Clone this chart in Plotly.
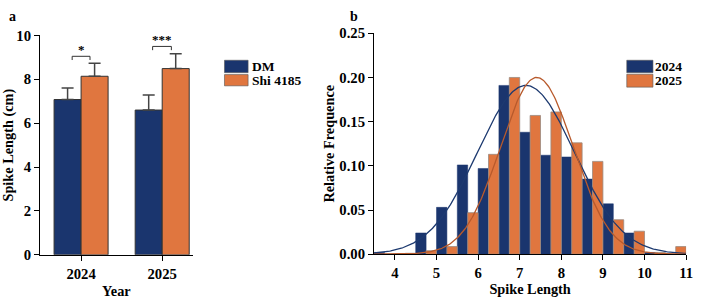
import numpy as np
import plotly.graph_objects as go

# ---------------- data ----------------
years = ["2024", "2025"]
dm_mean = [7.08, 6.60]
dm_err = [0.53, 0.69]
shi_mean = [8.14, 8.49]
shi_err = [0.59, 0.68]
sig_labels = ["*", "***"]

bin_centers = [3.75, 4.25, 4.75, 5.25, 5.75, 6.25, 6.75, 7.25, 7.75, 8.25, 8.75, 9.25, 9.75, 10.25, 10.75]
freq_2024 = [0.002, 0.0, 0.024, 0.053, 0.101, 0.097, 0.191, 0.138, 0.112, 0.110, 0.085, 0.057, 0.024, 0.002, 0.0]
freq_2025 = [0.0, 0.001, 0.004, 0.0086, 0.047, 0.113, 0.200, 0.157, 0.161, 0.126, 0.105, 0.039, 0.026, 0.002, 0.0086]

# normal-fit parameters (mean, sd, peak height)
fit_2024 = (7.15, 1.16, 0.191)
fit_2025 = (7.41, 0.875, 0.200)

# ---------------- style ----------------
NAVY = "#1a356e"
ORANGE = "#e0763f"
FONT = "Liberation Serif, Times New Roman, serif"
W, H = 701, 301

def px(x):
    return x / W

def py(y):
    return 1 - y / H

fig = go.Figure()

# ---- panel a ----
xpos = list(range(len(years)))
fig.add_trace(go.Bar(
    x=xpos, y=dm_mean, width=0.333, offset=-0.333,
    marker=dict(color=NAVY, line=dict(color="#333333", width=1)),
    error_y=dict(type="data", array=dm_err, arrayminus=[0] * len(dm_err), symmetric=False,
                 color="#444444", thickness=1.5, width=6),
    xaxis="x", yaxis="y", showlegend=False, name="DM"))
fig.add_trace(go.Bar(
    x=xpos, y=shi_mean, width=0.333, offset=0,
    marker=dict(color=ORANGE, line=dict(color="#333333", width=1)),
    error_y=dict(type="data", array=shi_err, arrayminus=[0] * len(shi_err), symmetric=False,
                 color="#444444", thickness=1.5, width=6),
    xaxis="x", yaxis="y", showlegend=False, name="Shi 4185"))

# ---- panel b ----
fig.add_trace(go.Bar(
    x=bin_centers, y=freq_2024, width=0.25, offset=-0.25,
    marker=dict(color=NAVY, line=dict(color=NAVY, width=0.5)),
    xaxis="x2", yaxis="y2", showlegend=False, name="2024"))
fig.add_trace(go.Bar(
    x=bin_centers, y=freq_2025, width=0.25, offset=0,
    marker=dict(color=ORANGE, line=dict(color="#9a8a80", width=0.8)),
    xaxis="x2", yaxis="y2", showlegend=False, name="2025"))

xs = np.linspace(3.5, 11, 300)
for (mu, sd, pk), col in [(fit_2024, "#1d3a70"), (fit_2025, "#b85a2c")]:
    fig.add_trace(go.Scatter(
        x=xs, y=pk * np.exp(-0.5 * ((xs - mu) / sd) ** 2), mode="lines",
        line=dict(color=col, width=1.3), xaxis="x2", yaxis="y2", showlegend=False,
        hoverinfo="skip"))

tickfont = dict(family=FONT, size=14.7, color="black", weight="bold")
titlefont = dict(family=FONT, size=14.3, color="black", weight="bold")

axis_common = dict(showline=True, linecolor="black", linewidth=1.3, ticks="outside",
                   ticklen=5, tickwidth=1.3, tickcolor="black", showgrid=False,
                   zeroline=False, tickfont=tickfont, mirror=False)

fig.update_layout(
    width=W, height=H, margin=dict(l=0, r=0, t=0, b=0),
    paper_bgcolor="white", plot_bgcolor="white",
    barmode="overlay",
    xaxis=dict(domain=[px(36.7), px(191.7)], range=[-0.505, 1.376],
               tickvals=xpos, ticktext=years, anchor="y",
               title=dict(text="Year", font=titlefont, standoff=5), **axis_common),
    yaxis=dict(domain=[py(260.7), py(29)], range=[0, 10], dtick=2, anchor="x",
               title=dict(text="Spike Length (cm)", font=titlefont, standoff=6), **axis_common),
    xaxis2=dict(domain=[px(376), px(693)], range=[3.5, 11], dtick=1, anchor="y2",
                title=dict(text="Spike Length", font=titlefont, standoff=0), **axis_common),
    yaxis2=dict(domain=[py(260), py(26.7)], range=[0, 0.25], dtick=0.05, tickformat=".2f",
                anchor="x2",
                title=dict(text="Relative Frequence", font=titlefont, standoff=1), **axis_common),
)

shapes = []
annotations = []

# significance brackets (panel a)
brackets = [(-0.11, 0.11, 9.05, 8.88), (-0.118, 0.113, 9.5, 9.33)]
for i, ((x0, x1, ytop, ybot), lab) in enumerate(zip(brackets, sig_labels)):
    c = xpos[i]
    for seg in [(x0, ybot, x0, ytop), (x0, ytop, x1, ytop), (x1, ytop, x1, ybot)]:
        shapes.append(dict(type="line", xref="x", yref="y", x0=c + seg[0], y0=seg[1],
                           x1=c + seg[2], y1=seg[3], line=dict(color="#333333", width=1)))
    annotations.append(dict(x=c + (x0 + x1) / 2, y=ytop, xref="x", yref="y", text=lab,
                            showarrow=False, yanchor="bottom", yshift=-3,
                            font=dict(family=FONT, size=13, color="#000000", weight="bold")))

# legends (drawn)
def legend(x0, x1, items, textx):
    for (y0, y1, col, lab) in items:
        shapes.append(dict(type="rect", xref="paper", yref="paper", x0=px(x0), x1=px(x1),
                           y0=py(y1), y1=py(y0), fillcolor=col,
                           line=dict(color="#555555", width=0.6)))
        annotations.append(dict(x=px(textx), y=py((y0 + y1) / 2), xref="paper", yref="paper",
                                text=lab, showarrow=False, xanchor="left", yanchor="middle",
                                borderpad=0,
                                font=dict(family=FONT, size=13.5, color="black", weight="bold")))

legend(224, 248, [(55.2, 68.3, NAVY, "DM"), (70.3, 82.2, ORANGE, "Shi 4185")], 251)
legend(632.7, 659.3, [(55.2, 68.3, NAVY, "2024"), (70.0, 83.6, ORANGE, "2025")], 660)

# panel labels
for lab, x in [("a", 4), ("b", 350)]:
    annotations.append(dict(x=px(x), y=py(0), xref="paper", yref="paper", text=lab,
                            showarrow=False, xanchor="left", yanchor="top", borderpad=0,
                            font=dict(family=FONT, size=14, color="black", weight="bold")))

fig.update_layout(shapes=shapes, annotations=annotations)
fig.write_html("out.html")
